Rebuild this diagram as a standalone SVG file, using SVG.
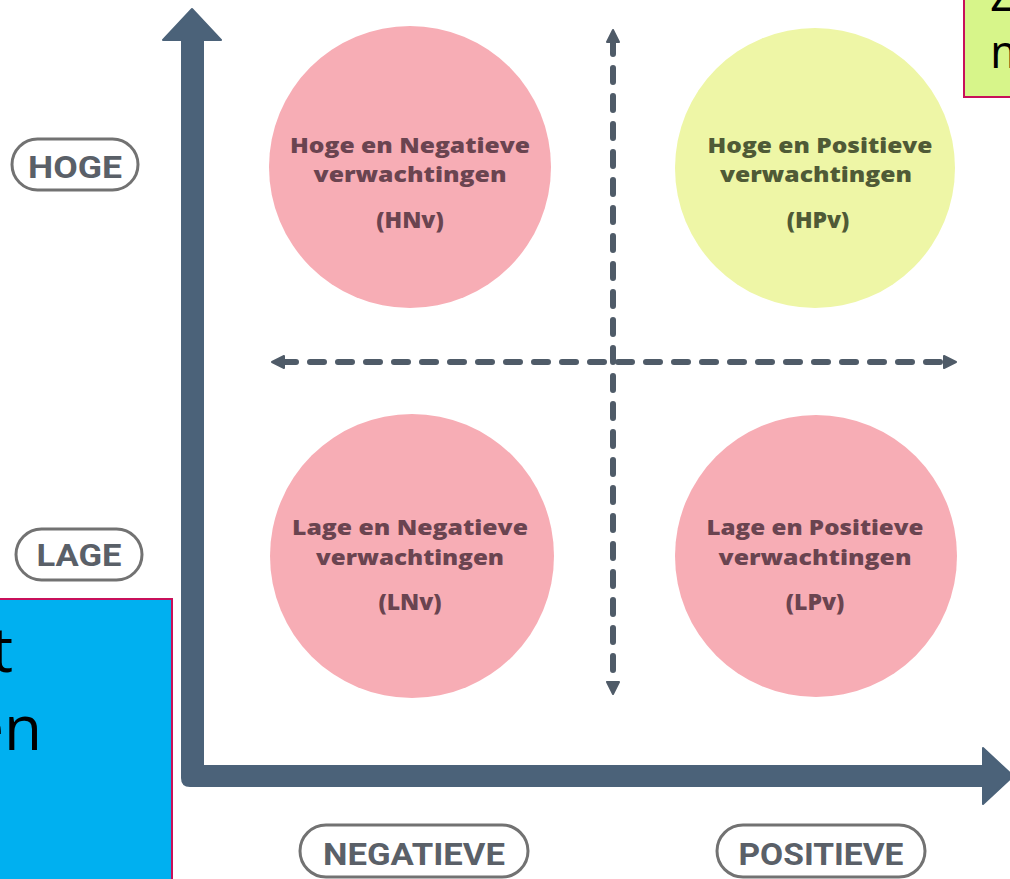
<svg xmlns="http://www.w3.org/2000/svg" width="1010" height="879" viewBox="0 0 1010 879">
  <defs>
    <marker id="ah" viewBox="0 0 16 16" refX="4" refY="8" markerWidth="16" markerHeight="16" markerUnits="userSpaceOnUse" orient="auto-start-reverse">
      <path d="M2,2 L14,8 L2,14 Z" fill="#4f5b68" stroke="#4f5b68" stroke-width="2" stroke-linejoin="round"/>
    </marker>
  </defs>
  <style>
    .axis { fill: #4b6279; stroke: #4b6279; stroke-width: 2; stroke-linejoin: round; }
    .dash { stroke: #4f5b68; stroke-width: 6; stroke-linecap: round; stroke-dasharray: 14 14; fill: none; }
    .pill { fill: #ffffff; stroke: #727272; stroke-width: 3; }
    .pilltxt { font-family: Roboto, "Liberation Sans", sans-serif; font-weight: bold; font-size: 31px; fill: #5a6068; text-anchor: middle; }
    .pink { fill: #f7adb5; }
    .lime { fill: #eef6a6; }
    .ctxt { font-family: "Open Sans", "Liberation Sans", sans-serif; font-weight: 800; font-size: 21px; text-anchor: middle; }
    .abbr { font-size: 23px; }
    .ptxt { fill: #6a4450; }
    .gtxt { fill: #4f5a36; }
    .big { font-family: "Open Sans", "Liberation Sans", sans-serif; fill: #000000; }
  </style>
  <rect width="1010" height="879" fill="#ffffff"/>

  <g id="connectors">
    <path class="axis" d="M182,40 L163,40 L192,9 L221,40 L203,40 L203,766 L983,766 L983,748 L1013,776 L983,804 L983,786 L190,786 Q182,786 182,778 Z"/>
    <line class="dash" x1="613" y1="40" x2="613" y2="684" marker-start="url(#ah)" marker-end="url(#ah)"/>
    <line class="dash" x1="282" y1="362" x2="946" y2="362" marker-start="url(#ah)" marker-end="url(#ah)"/>
  </g>

  <g id="node-hnv">
    <circle class="pink" cx="410" cy="167" r="141"/>
    <text class="ctxt ptxt" x="410" y="153" textLength="240" lengthAdjust="spacingAndGlyphs">Hoge en Negatieve</text>
    <text class="ctxt ptxt" x="410" y="182" textLength="193" lengthAdjust="spacingAndGlyphs">verwachtingen</text>
    <text class="ctxt abbr ptxt" x="410" y="228">(HNv)</text>
  </g>

  <g id="node-hpv">
    <circle class="lime" cx="815" cy="168" r="140"/>
    <text class="ctxt gtxt" x="820" y="153" textLength="225" lengthAdjust="spacingAndGlyphs">Hoge en Positieve</text>
    <text class="ctxt gtxt" x="816" y="182" textLength="192" lengthAdjust="spacingAndGlyphs">verwachtingen</text>
    <text class="ctxt abbr gtxt" x="818" y="228">(HPv)</text>
  </g>

  <g id="node-lnv">
    <circle class="pink" cx="412" cy="556" r="142"/>
    <text class="ctxt ptxt" x="410" y="535" textLength="236" lengthAdjust="spacingAndGlyphs">Lage en Negatieve</text>
    <text class="ctxt ptxt" x="410" y="565" textLength="188" lengthAdjust="spacingAndGlyphs">verwachtingen</text>
    <text class="ctxt abbr ptxt" x="410" y="610">(LNv)</text>
  </g>

  <g id="node-lpv">
    <circle class="pink" cx="816" cy="556" r="141"/>
    <text class="ctxt ptxt" x="815" y="535" textLength="217" lengthAdjust="spacingAndGlyphs">Lage en Positieve</text>
    <text class="ctxt ptxt" x="815" y="565" textLength="193" lengthAdjust="spacingAndGlyphs">verwachtingen</text>
    <text class="ctxt abbr ptxt" x="815" y="610">(LPv)</text>
  </g>

  <g id="label-hoge">
    <rect class="pill" x="12" y="139" width="126" height="51" rx="25.5"/>
    <text class="pilltxt" x="75" y="178" textLength="94" lengthAdjust="spacingAndGlyphs">HOGE</text>
  </g>
  <g id="label-lage">
    <rect class="pill" x="16" y="529" width="126" height="51" rx="25.5"/>
    <text class="pilltxt" x="79" y="566" textLength="85" lengthAdjust="spacingAndGlyphs">LAGE</text>
  </g>
  <g id="label-negatieve">
    <rect class="pill" x="300" y="825" width="228" height="52" rx="26"/>
    <text class="pilltxt" x="414" y="865" textLength="182" lengthAdjust="spacingAndGlyphs">NEGATIEVE</text>
  </g>
  <g id="label-positieve">
    <rect class="pill" x="717" y="825" width="208" height="52" rx="26"/>
    <text class="pilltxt" x="821" y="865" textLength="165" lengthAdjust="spacingAndGlyphs">POSITIEVE</text>
  </g>

  <g id="note-blue">
    <rect x="-5" y="599" width="177" height="290" fill="#00b0f0" stroke="#c8105a" stroke-width="2"/>
    <text class="big" x="13" y="672" font-size="62" text-anchor="end">t</text>
    <text class="big" x="42" y="750" font-size="62" text-anchor="end">en</text>
  </g>

  <g id="note-green">
    <rect x="964" y="-5" width="52" height="102" fill="#d7f58a" stroke="#c8105a" stroke-width="2"/>
    <text class="big" x="990" y="11" font-size="46">Z</text>
    <text class="big" x="990" y="68" font-size="46">m</text>
  </g>
</svg>
